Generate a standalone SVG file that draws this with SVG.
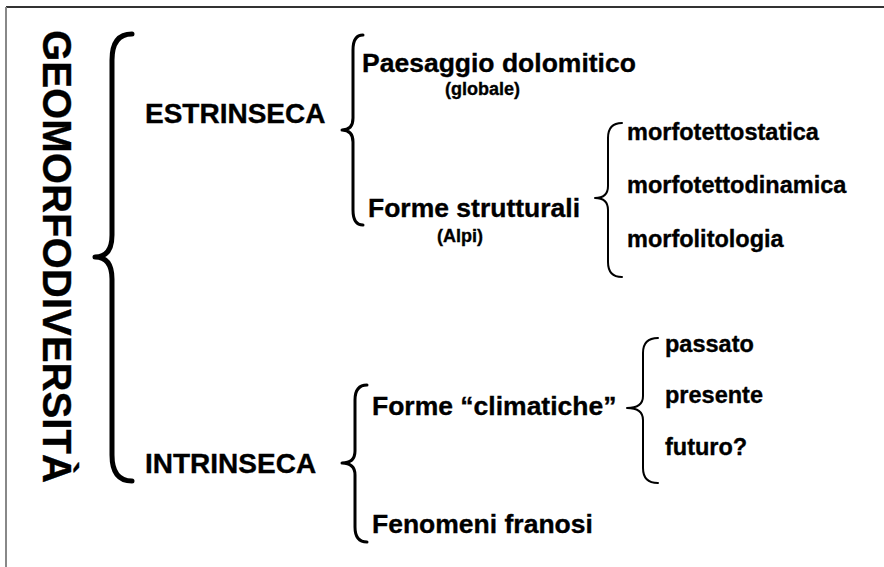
<svg xmlns="http://www.w3.org/2000/svg" width="884" height="567" viewBox="0 0 884 567">
<style>
text{font-family:"Liberation Sans",Arial,sans-serif;font-weight:bold;fill:#000;stroke:#000;stroke-width:0.35px}
.cap{font-size:28px}
.main{font-size:26.5px}
.sub{font-size:18px}
.leaf{font-size:23.5px}
.br{fill:none;stroke:#000;stroke-linecap:round;stroke-linejoin:round}
</style>
<rect width="884" height="567" fill="#fff"/>
<g id="frame">
<line x1="6" y1="7" x2="884" y2="7" stroke="#333" stroke-width="2"/>
<line x1="6" y1="7" x2="6" y2="567" stroke="#888" stroke-width="2"/>
</g>
<g id="connectors">
<path class="br" stroke-width="5" d="M132,34 Q112,34 112,60 L112,235 Q112,257 95,257 Q112,257 112,279 L112,455 Q112,481 132,481"/>
<path class="br" stroke-width="3" d="M363,35 Q353,35 353,50 L353,118 Q353,130 342,130 Q353,130 353,142 L353,210 Q353,225 363,225"/>
<path class="br" stroke-width="2" d="M622,123 Q608,123 608,138 L608,186 Q608,198 595,198 Q608,198 608,210 L608,262 Q608,277 622,277"/>
<path class="br" stroke-width="3" d="M367,385 Q355,385 355,400 L355,451 Q355,463 342,463 Q355,463 355,475 L355,527 Q355,542 367,542"/>
<path class="br" stroke-width="2" d="M658,338 Q643,338 643,353 L643,396 Q643,408 627,408 Q643,408 643,420 L643,468 Q643,483 658,483"/>
</g>
<g id="root"><text transform="translate(43,30) rotate(90)" x="0" y="0" font-size="40" textLength="453" lengthAdjust="spacingAndGlyphs">GEOMORFODIVERSITÀ</text></g>
<g id="estrinseca"><text class="cap" x="145" y="123">ESTRINSECA</text></g>
<g id="intrinseca"><text class="cap" x="145" y="473">INTRINSECA</text></g>
<g id="paesaggio"><text class="main" x="362" y="72">Paesaggio dolomitico</text><text class="sub" x="445" y="95">(globale)</text></g>
<g id="strutturali"><text class="main" x="368" y="217">Forme strutturali</text><text class="sub" x="437" y="242" font-size="17">(Alpi)</text></g>
<g id="morfotettostatica"><text class="leaf" x="627" y="140">morfotettostatica</text></g>
<g id="morfotettodinamica"><text class="leaf" x="627" y="193">morfotettodinamica</text></g>
<g id="morfolitologia"><text class="leaf" x="627" y="247">morfolitologia</text></g>
<g id="climatiche"><text class="main" x="372" y="415">Forme “climatiche”</text></g>
<g id="franosi"><text class="main" x="372" y="533">Fenomeni franosi</text></g>
<g id="passato"><text class="leaf" x="665" y="352">passato</text></g>
<g id="presente"><text class="leaf" x="665" y="403">presente</text></g>
<g id="futuro"><text class="leaf" x="665" y="455">futuro?</text></g>
</svg>
